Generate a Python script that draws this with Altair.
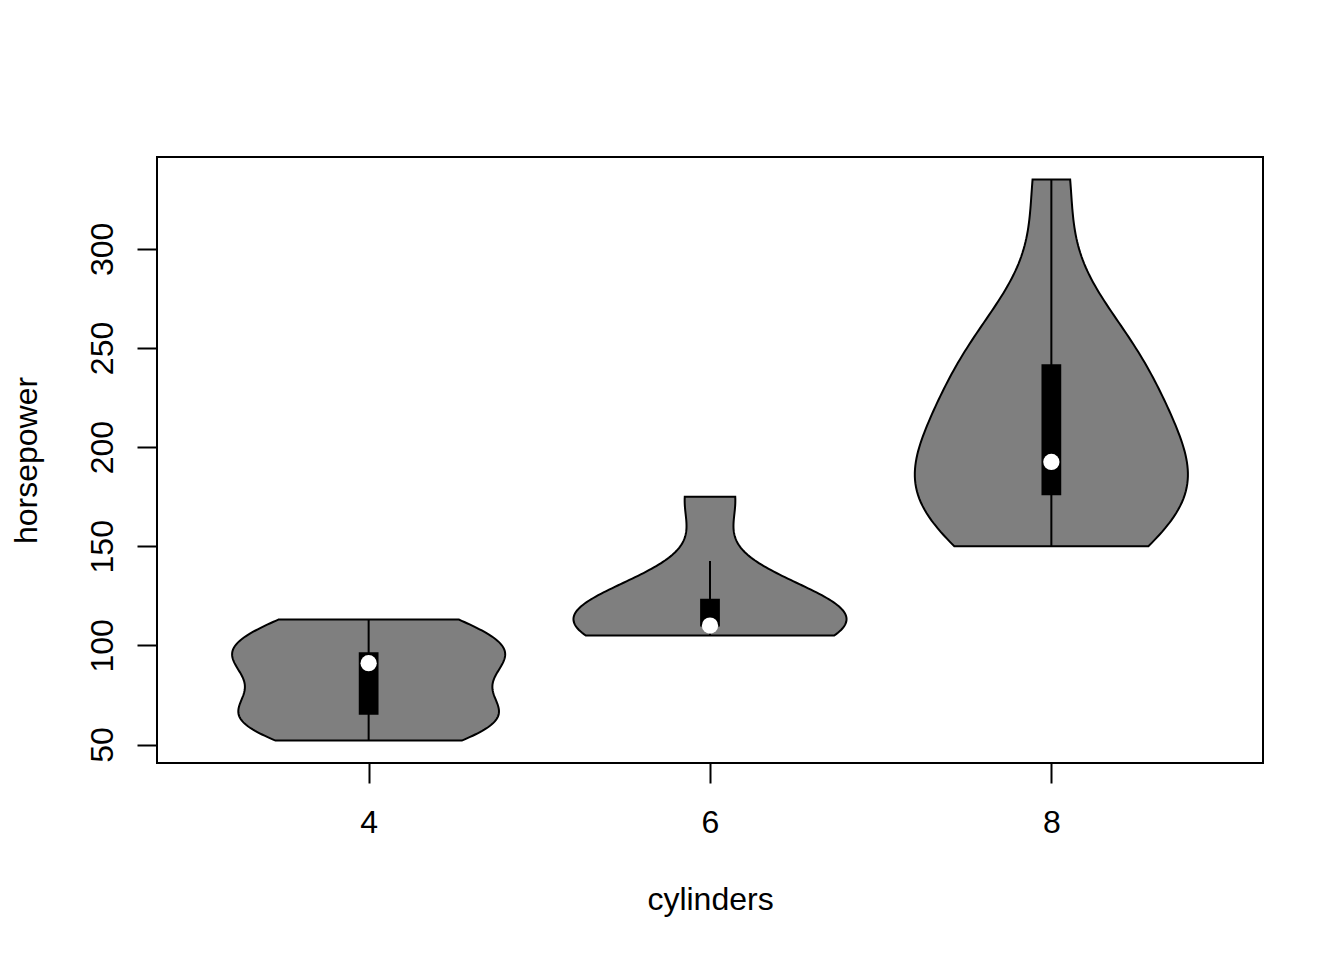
import altair as alt
import numpy as np
import pandas as pd

# ---- data (mtcars horsepower by number of cylinders) ----
cyl_labels = ["4", "6", "8"]
cyl_positions = [1, 2, 3]
hp_4 = [93, 62, 95, 66, 52, 65, 97, 66, 91, 113, 109]
hp_6 = [110, 110, 110, 105, 123, 123, 175]
hp_8 = [175, 175, 245, 180, 180, 180, 205, 215, 230, 150, 150, 245, 264, 335]
groups = [hp_4, hp_6, hp_8]
y_ticks = [50, 100, 150, 200, 250, 300]

FONT = "Liberation Sans"
GREY = "#7f7f7f"

rows = []
for lab, pos, vals in zip(cyl_labels, cyl_positions, groups):
    for v in vals:
        rows.append({"cyl": lab, "pos": pos, "hp": v})
df = pd.DataFrame(rows)

all_hp = np.concatenate([np.array(g, dtype=float) for g in groups])
ext = 0.04 * (all_hp.max() - all_hp.min())
y_dom = [float(all_hp.min() - ext), float(all_hp.max() + ext)]
x_dom = [0.5 - 0.04 * 3, 3.5 + 0.04 * 3]

label_expr = " : ".join(
    f"datum.value == {p} ? '{l}'" for p, l in zip(cyl_positions, cyl_labels)
) + " : ''"

x_scale = alt.Scale(domain=x_dom, nice=False, zero=False)
y_scale = alt.Scale(domain=y_dom, nice=False, zero=False)

x_axis = alt.Axis(
    values=cyl_positions, labelExpr=label_expr, title="cylinders",
    domain=False, grid=False, ticks=True, tickSize=20, tickWidth=2, tickColor="black",
    labelFont=FONT, labelFontSize=32, labelColor="black", labelPadding=49,
    labelBaseline="alphabetic", labelAlign="center", labelFlush=False, labelOverlap=False,
    titleFont=FONT, titleFontSize=32, titleFontWeight="normal", titleColor="black",
    titleBaseline="alphabetic", titleAlign="center", titleY=146, titleX=553,
)
y_axis = alt.Axis(
    values=y_ticks, title="horsepower",
    domain=False, grid=False, ticks=True, tickSize=20, tickWidth=2, tickColor="black",
    labelFont=FONT, labelFontSize=32, labelColor="black", labelPadding=25,
    labelAngle=270, labelBaseline="alphabetic", labelAlign="center",
    labelFlush=False, labelOverlap=False,
    titleFont=FONT, titleFontSize=32, titleFontWeight="normal", titleColor="black",
    titleAngle=270, titleBaseline="alphabetic", titleAlign="center", titleX=-121, titleY=303,
)

layers = []
for lab, pos, vals in zip(cyl_labels, cyl_positions, groups):
    h = float(np.std(vals, ddof=1) * (4.0 / (3.0 * len(vals))) ** 0.2)
    violin = (
        alt.Chart(df)
        .transform_filter(alt.datum.cyl == lab)
        .transform_density("hp", as_=["hp", "density"], bandwidth=h,
                           extent=[float(min(vals)), float(max(vals))], steps=100,
                           groupby=["pos"])
        .transform_joinaggregate(maxd="max(density)")
        .transform_calculate(
            left="datum.pos - 0.4 * datum.density / datum.maxd",
            right="datum.pos + 0.4 * datum.density / datum.maxd",
        )
        .mark_area(orient="horizontal", fill=GREY, stroke="black", strokeWidth=2,
                   opacity=1, interpolate="linear")
        .encode(
            y=alt.Y("hp:Q", scale=y_scale, axis=y_axis),
            x=alt.X("left:Q", scale=x_scale, axis=x_axis),
            x2="right:Q",
        )
    )
    layers.append(violin)

stats = (
    alt.Chart(df)
    .transform_aggregate(q1="q1(hp)", med="median(hp)", q3="q3(hp)",
                         mn="min(hp)", mx="max(hp)", groupby=["cyl", "pos"])
    .transform_calculate(
        wlo="max(datum.mn, datum.q1 - 1.5 * (datum.q3 - datum.q1))",
        whi="min(datum.mx, datum.q3 + 1.5 * (datum.q3 - datum.q1))",
        bl="datum.pos - 0.026",
        br="datum.pos + 0.026",
    )
)

whisker = stats.mark_rule(color="black", strokeWidth=2).encode(
    x=alt.X("pos:Q", scale=x_scale, axis=x_axis),
    y=alt.Y("wlo:Q", scale=y_scale, axis=y_axis),
    y2="whi:Q",
)
box = stats.mark_rect(color="black", stroke="black", strokeWidth=2).encode(
    x=alt.X("bl:Q", scale=x_scale, axis=x_axis),
    x2="br:Q",
    y=alt.Y("q1:Q", scale=y_scale, axis=y_axis),
    y2="q3:Q",
)
median = stats.mark_point(filled=True, color="white", size=265, opacity=1,
                          shape="circle", strokeWidth=0).encode(
    x=alt.X("pos:Q", scale=x_scale, axis=x_axis),
    y=alt.Y("med:Q", scale=y_scale, axis=y_axis),
)

chart = (
    alt.layer(*layers, whisker, box, median)
    .properties(
        width=1106, height=606,
        padding={"left": 149, "top": 149, "right": 60, "bottom": 180},
        autosize=alt.AutoSizeParams(type="none"),
        background="white",
    )
    .configure_view(stroke="black", strokeWidth=2)
)

chart.save("out.html", embed_options={"renderer": "svg", "actions": False})
